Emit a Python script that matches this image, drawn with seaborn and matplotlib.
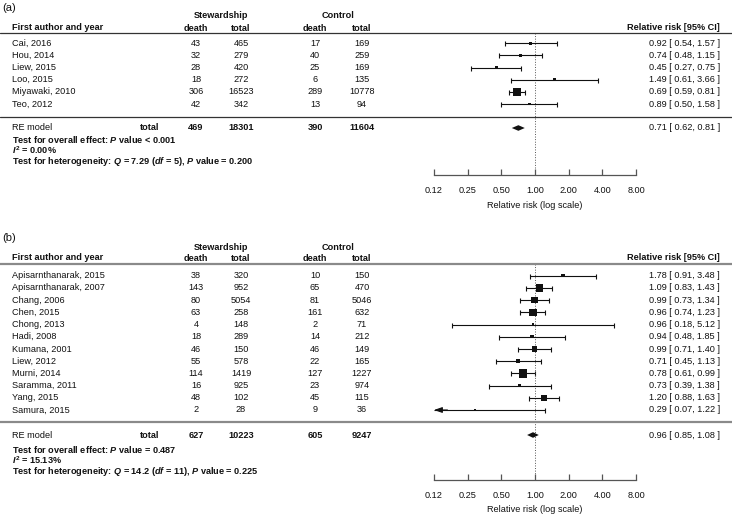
import numpy as np
import matplotlib
matplotlib.use("Agg")
import matplotlib.pyplot as plt
import matplotlib.transforms as mtransforms
from matplotlib.ticker import NullLocator
import seaborn as sns

# ---- panel (a) data
studies_a = ["Cai, 2016", "Hou, 2014", "Liew, 2015", "Loo, 2015", "Miyawaki, 2010", "Teo, 2012"]
stew_death_a = [43, 32, 28, 18, 306, 42]
stew_total_a = [465, 279, 420, 272, 16523, 342]
ctrl_death_a = [17, 40, 25, 6, 289, 13]
ctrl_total_a = [169, 259, 169, 135, 10778, 94]
rr_a = [0.92, 0.74, 0.45, 1.49, 0.69, 0.89]
lo_a = [0.54, 0.48, 0.27, 0.61, 0.59, 0.50]
hi_a = [1.57, 1.15, 0.75, 3.66, 0.81, 1.58]
re_a = [0.71, 0.62, 0.81]
sums_a = [469, 18301, 390, 11604]
stats_a = ["< 0.001", "0.00%", "7.29", "5", "0.200"]

# ---- panel (b) data
studies_b = ["Apisarnthanarak, 2015", "Apisarnthanarak, 2007", "Chang, 2006", "Chen, 2015",
             "Chong, 2013", "Hadi, 2008", "Kumana, 2001", "Liew, 2012", "Murni, 2014",
             "Saramma, 2011", "Yang, 2015", "Samura, 2015"]
stew_death_b = [38, 143, 80, 63, 4, 18, 46, 55, 114, 16, 48, 2]
stew_total_b = [320, 952, 5054, 258, 148, 289, 150, 578, 1419, 925, 102, 28]
ctrl_death_b = [10, 65, 81, 161, 2, 14, 46, 22, 127, 23, 45, 9]
ctrl_total_b = [150, 470, 5046, 632, 71, 212, 149, 165, 1227, 974, 115, 36]
rr_b = [1.78, 1.09, 0.99, 0.96, 0.96, 0.94, 0.99, 0.71, 0.78, 0.73, 1.20, 0.29]
lo_b = [0.91, 0.83, 0.73, 0.74, 0.18, 0.48, 0.71, 0.45, 0.61, 0.39, 0.88, 0.07]
hi_b = [3.48, 1.43, 1.34, 1.23, 5.12, 1.85, 1.40, 1.13, 0.99, 1.38, 1.63, 1.22]
re_b = [0.96, 0.85, 1.08]
sums_b = [627, 10223, 605, 9247]
stats_b = ["= 0.487", "15.13%", "14.2", "11", "0.225"]

ticks = [0.125, 0.25, 0.5, 1, 2, 4, 8]
tick_labels = ["0.12", "0.25", "0.50", "1.00", "2.00", "4.00", "8.00"]

sns.set_theme(style="white")
plt.rcParams["font.family"] = ["Liberation Sans", "DejaVu Sans"]
plt.rcParams["mathtext.fontset"] = "custom"
plt.rcParams["mathtext.it"] = "Liberation Sans:italic:bold"
plt.rcParams["mathtext.rm"] = "Liberation Sans:bold"
plt.rcParams["mathtext.bf"] = "Liberation Sans:bold"

W, H = 732, 531
FS = 6.6
INK = "#111111"
AXC = "#555555"

# log2 x axis, 0.125 sits at 434 px and 8 at 636 px
px_per_doubling = (636 - 434) / 6
xlim = (2 ** (-3 - 434 / px_per_doubling), 2 ** (3 + (W - 636) / px_per_doubling))

# column positions (pixels)
col_name, col_tot_lbl = 12, 150
col_sd, col_st, col_cd, col_ct = 196, 241, 315, 362
col_grp_s, col_grp_c, col_rr = 221, 338, 720

fig = plt.figure(figsize=(W / 100, H / 100), dpi=100)


def forest(lay, tag, studies, sd, st, cd, ct, rr, lo, hi, re, sums, stats, rule_c, rule_lw):
    top, bottom = lay["top"], lay["bottom"]
    ax = fig.add_axes([0, 1 - bottom / H, 1, (bottom - top) / H])
    ax.set_facecolor("none")
    tr = mtransforms.blended_transform_factory(ax.transAxes, ax.transData)

    def txt(x, y, s, ha="center", bold=False, size=FS, va="center"):
        ax.text(x / W, y, s, transform=tr, ha=ha, va=va, fontsize=size,
                fontweight="bold" if bold else "normal", color=INK)

    rr, lo, hi = np.array(rr), np.array(lo), np.array(hi)
    rows = lay["row0"] + lay["step"] * np.arange(len(studies))

    # square size from inverse-variance weight
    se = (np.log(hi) - np.log(lo)) / (2 * 1.96)
    w = 1 / se ** 2
    side_px = 2.6 + 5.6 * (w - w.min()) / (w.max() - w.min())
    area = (side_px * 0.72) ** 2
    sns.scatterplot(x=rr, y=rows, s=area, marker="s", color=INK, linewidth=0,
                    ax=ax, legend=False, zorder=4)

    ax.set_xscale("log", base=2)
    ax.set_xlim(xlim)
    ax.set_ylim(bottom, top)

    xmin = ticks[0]
    clipped = lo < xmin
    lo_plot = np.maximum(lo, xmin)
    ax.hlines(rows, lo_plot, hi, color=INK, lw=0.8, zorder=3)
    ax.plot(hi, rows, ls="none", marker="|", ms=3.6, mew=0.8, color=INK)
    ax.plot(lo[~clipped], rows[~clipped], ls="none", marker="|", ms=3.6, mew=0.8, color=INK)
    for y in rows[clipped]:
        ax.annotate("", xy=(xmin, y), xytext=(xmin * 2 ** 0.4, y),
                    arrowprops=dict(arrowstyle="-|>,head_length=0.4,head_width=0.14",
                                    color=INK, lw=0.8, shrinkA=0, shrinkB=0))

    # summary diamond
    est, rlo, rhi = re
    ry = lay["re"]
    ax.fill([rlo, est, rhi, est], [ry, ry - 2.8, ry, ry + 2.8], color=INK, lw=0, zorder=4)

    # reference line and rules
    ax.vlines(1, lay["line1"], lay["axis"] - 3, colors=AXC, linestyles=":", lw=0.7)
    ax.axhline(lay["line1"], color=rule_c, lw=rule_lw)
    ax.axhline(lay["line2"], color=rule_c, lw=rule_lw)

    # axis
    for s in ["left", "right", "top"]:
        ax.spines[s].set_visible(False)
    ax.spines["bottom"].set_position(("data", lay["axis"]))
    ax.spines["bottom"].set_bounds(ticks[0], ticks[-1])
    ax.spines["bottom"].set_color(AXC)
    ax.spines["bottom"].set_linewidth(0.9)
    ax.set_xticks(ticks, tick_labels)
    ax.xaxis.set_minor_locator(NullLocator())
    ax.tick_params(axis="x", which="major", bottom=True, direction="in", length=4,
                   width=0.9, color=AXC, pad=8, labelsize=FS, labelcolor=INK)
    ax.set_yticks([])
    ax.text(1, lay["xlab"], "Relative risk (log scale)", ha="center", va="center",
            fontsize=FS, color=INK)

    # header
    txt(2, lay["tag"], tag, ha="left", size=8)
    txt(col_grp_s, lay["group"], "Stewardship", bold=True)
    txt(col_grp_c, lay["group"], "Control", bold=True)
    txt(col_name, lay["head"] - 1, "First author and year", ha="left", bold=True)
    for x, s in [(col_sd, "death"), (col_st, "total"), (col_cd, "death"), (col_ct, "total")]:
        txt(x, lay["head"], s, bold=True)
    txt(col_rr, lay["head"] - 1, "Relative risk [95% CI]", ha="right", bold=True)

    # study rows
    for i, y in enumerate(rows):
        txt(col_name, y, studies[i], ha="left")
        txt(col_sd, y, str(sd[i]))
        txt(col_st, y, str(st[i]))
        txt(col_cd, y, str(cd[i]))
        txt(col_ct, y, str(ct[i]))
        txt(col_rr, y, f"{rr[i]:.2f} [ {lo[i]:.2f}, {hi[i]:.2f} ]", ha="right")

    # summary row
    txt(col_name, ry, "RE model", ha="left")
    txt(col_tot_lbl, ry, "total", bold=True)
    for x, v in zip([col_sd, col_st, col_cd, col_ct], sums):
        txt(x, ry, str(v), bold=True)
    txt(col_rr, ry, f"{est:.2f} [ {rlo:.2f}, {rhi:.2f} ]", ha="right")

    p_all, i2, q, df, p_het = stats
    s1 = r"Test for overall effect: $P$ value " + p_all
    s2 = r"$I^{2}$ = " + i2
    s3 = r"Test for heterogeneity: $Q$ = " + q + r" ($df$ = " + df + r"), $P$ value = " + p_het
    y1, y2, y3 = lay["stats"]
    txt(col_name, y1, s1, ha="left", bold=True)
    txt(col_name, y2 + 4, s2, ha="left", bold=True, va="baseline")
    txt(col_name, y3, s3, ha="left", bold=True)
    return ax


lay_a = dict(top=0, bottom=230, tag=8, group=16, head=28.5, line1=33, row0=43.3, step=12.15,
             line2=117, re=128, stats=[139.5, 150.5, 161.5], axis=175, xlab=205)
lay_b = dict(top=230, bottom=531, tag=238, group=247, head=258.5, line1=263.5, row0=275.8,
             step=12.2, line2=422, re=435, stats=[449.5, 460.5, 471.5], axis=480, xlab=509)

forest(lay_a, "(a)", studies_a, stew_death_a, stew_total_a, ctrl_death_a, ctrl_total_a,
       rr_a, lo_a, hi_a, re_a, sums_a, stats_a, "#333333", 0.9)
forest(lay_b, "(b)", studies_b, stew_death_b, stew_total_b, ctrl_death_b, ctrl_total_b,
       rr_b, lo_b, hi_b, re_b, sums_b, stats_b, "#8a8a8a", 1.6)

fig.savefig("out.png", dpi=100)
